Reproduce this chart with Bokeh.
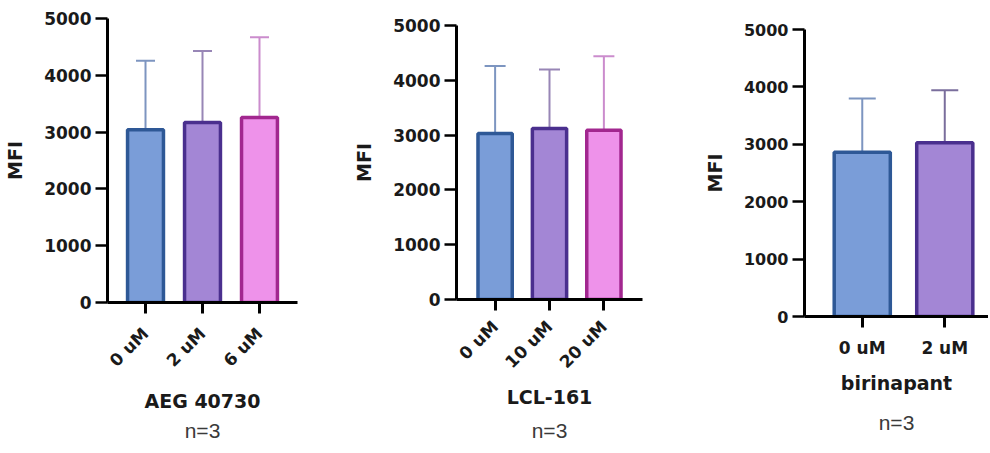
import math
from bokeh.plotting import figure
from bokeh.layouts import row, column
from bokeh.models import Range1d, FixedTicker, LinearAxis
from bokeh.embed import file_html
from bokeh.resources import INLINE

# ---- data ----
aeg_cats = ["0 uM", "2 uM", "6 uM"]
aeg_mean = [3040, 3170, 3255]
aeg_sd = [1215, 1260, 1415]

lcl_cats = ["0 uM", "10 uM", "20 uM"]
lcl_mean = [3030, 3120, 3090]
lcl_sd = [1230, 1075, 1350]

bir_cats = ["0 uM", "2 uM"]
bir_mean = [2860, 3025]
bir_sd = [940, 915]

y_ticks = [0, 1000, 2000, 3000, 4000, 5000]
note = "n=3"

fills = ["#7a9dd8", "#a386d5", "#ee92ea"]
outlines = ["#2e5896", "#4a2f8e", "#a2278f"]
whisk = ["#7d95c0", "#9886b6", "#cb8ccd"]
whisk_bir = ["#7d95c0", "#7a6e9c"]

FONT = "DejaVu Sans"


def panel(cats, means, sds, xlabel, wcols, w, h, bl, br, bt, bb, xs, xe, bw,
          cap, orient, tick_fs, xl_standoff, lab_standoff, note_standoff):
    n = len(cats)
    idx = list(range(n))
    tops = [m + s for m, s in zip(means, sds)]
    p = figure(width=w, height=h, output_backend="svg", toolbar_location=None,
               x_range=Range1d(xs, xe), y_range=Range1d(0, 5000),
               min_border_left=bl, min_border_right=br,
               min_border_top=bt, min_border_bottom=bb)
    p.title.visible = False
    p.outline_line_color = None
    p.xgrid.visible = False
    p.ygrid.visible = False

    p.segment(x0=idx, y0=means, x1=idx, y1=tops, line_color=wcols[:n],
              line_width=2)
    p.dash(x=idx, y=tops, size=cap, line_color=wcols[:n], line_width=2)
    p.vbar(x=idx, top=means, bottom=0, width=bw, fill_color=fills[:n],
           line_color=outlines[:n], line_width=3.5)

    ya = p.yaxis[0]
    ya.ticker = FixedTicker(ticks=y_ticks)
    ya.minor_tick_line_color = None
    ya.major_tick_out = 12
    ya.major_tick_in = 0
    ya.major_tick_line_width = 2.5
    ya.axis_line_width = 3
    ya.axis_line_color = "black"
    ya.major_tick_line_color = "black"
    ya.major_label_text_font = FONT
    ya.major_label_text_font_style = "bold"
    ya.major_label_text_font_size = tick_fs
    ya.major_label_text_color = "#1a1a1a"
    ya.major_label_standoff = 4
    ya.axis_label = "MFI"
    ya.axis_label_text_font = FONT
    ya.axis_label_text_font_style = "bold"
    ya.axis_label_text_font_size = "19px"
    ya.axis_label_text_color = "#1a1a1a"
    ya.axis_label_standoff = 15

    xa = p.xaxis[0]
    xa.ticker = FixedTicker(ticks=idx)
    xa.major_label_overrides = {i: c for i, c in zip(idx, cats)}
    xa.minor_tick_line_color = None
    xa.major_tick_out = 11
    xa.major_tick_in = 0
    xa.major_tick_line_width = 3
    xa.axis_line_width = 3
    xa.axis_line_color = "black"
    xa.major_tick_line_color = "black"
    xa.major_label_orientation = orient
    xa.major_label_text_font = FONT
    xa.major_label_text_font_style = "bold"
    xa.major_label_text_font_size = "17px"
    xa.major_label_text_color = "#1a1a1a"
    xa.major_label_standoff = xl_standoff
    xa.axis_label = xlabel
    xa.axis_label_text_font = FONT
    xa.axis_label_text_font_style = "bold"
    xa.axis_label_text_font_size = "19px"
    xa.axis_label_text_color = "#1a1a1a"
    xa.axis_label_standoff = lab_standoff

    na = LinearAxis(ticker=FixedTicker(ticks=[]), axis_line_color=None,
                    major_tick_line_color=None, minor_tick_line_color=None,
                    major_tick_out=0, major_tick_in=0, minor_tick_out=0,
                    major_label_standoff=0,
                    axis_label=note, axis_label_standoff=note_standoff,
                    axis_label_text_font="Liberation Sans",
                    axis_label_text_font_style="normal",
                    axis_label_text_font_size="21px",
                    axis_label_text_color="#3a3a3a")
    p.add_layout(na, "below")
    return p


H = 451
p1 = panel(aeg_cats, aeg_mean, aeg_sd, "AEG 40730", whisk, 340, H, 107, 43, 18,
           H - 302, -0.667, 2.667, 0.63, 19, math.pi / 4, "17px", 17, 9, 4)
p2 = panel(lcl_cats, lcl_mean, lcl_sd, "LCL-161", whisk, 340, H, 116, 38, 25,
           H - 299, -0.71, 2.71, 0.63, 21, math.pi / 4, "17px", 13, 4, 7)
p3 = panel(bir_cats, bir_mean, bir_sd, "birinapant", whisk_bir, 308, H, 124, 0,
           29, H - 316, -0.70, 1.53, 0.68, 27, "horizontal", "16px", 10, 11, 14)

layout = row(column(p1), column(p2), column(p3))
open("out.html", "w").write(file_html(layout, INLINE))
